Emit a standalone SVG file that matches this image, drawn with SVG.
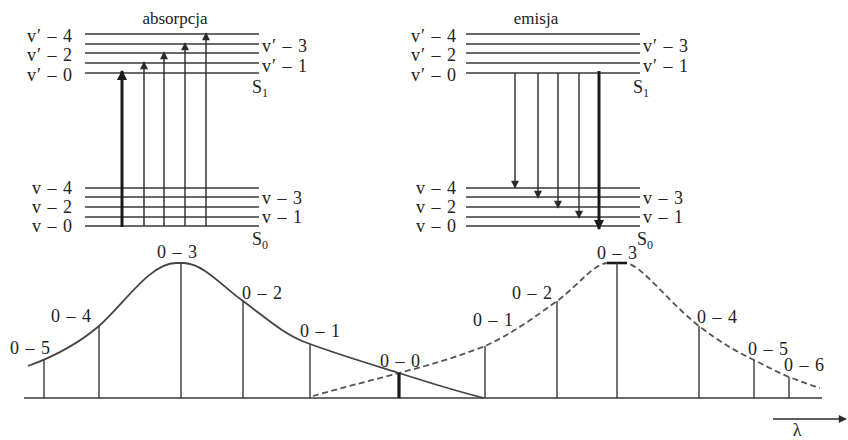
<svg xmlns="http://www.w3.org/2000/svg" width="848" height="440" viewBox="0 0 848 440" font-family="'Liberation Serif', 'Times New Roman', serif">
<defs>
<marker id="ah" viewBox="0 0 10 10" refX="9" refY="5" markerWidth="11" markerHeight="8" markerUnits="userSpaceOnUse" orient="auto"><path d="M0,0 L10,5 L0,10 z" fill="#2a2a2a"/></marker>
<marker id="ahb" viewBox="0 0 10 10" refX="9" refY="5" markerWidth="12" markerHeight="10" markerUnits="userSpaceOnUse" orient="auto"><path d="M0,0 L10,5 L0,10 z" fill="#1a1a1a"/></marker>
</defs>
<style>
text{font-family:'Liberation Serif','Times New Roman',serif;font-size:18px;fill:#222;letter-spacing:1px}
.lab{text-anchor:end}
.lvl{stroke:#3a3a3a;stroke-width:1.5;fill:none}
.stick{stroke:#3a3a3a;stroke-width:1.4;fill:none}
.arr{stroke:#2a2a2a;stroke-width:1.4;fill:none;marker-end:url(#ah)}
.arrb{stroke:#1a1a1a;stroke-width:3;fill:none;marker-end:url(#ahb)}
.thick{stroke:#1a1a1a;stroke-width:3.2;fill:none}
.curve{stroke:#444;stroke-width:1.8;fill:none}
.dash{stroke:#555;stroke-width:1.8;fill:none;stroke-dasharray:6 3.5}
.sub{font-size:12px;letter-spacing:0}
.title{font-size:17px;letter-spacing:0;text-anchor:middle}
</style>

<g id="absorption">
  <text class="title" x="175" y="24">absorpcja</text>
  <g id="abs-S1">
    <path class="lvl" d="M85,34H259M85,44H259M85,53H259M85,63H259M85,73H259"/>
    <text class="lab" x="73" y="42">v′ – 4</text>
    <text class="lab" x="73" y="61">v′ – 2</text>
    <text class="lab" x="73" y="81">v′ – 0</text>
    <text x="262" y="52">v′ – 3</text>
    <text x="262" y="72">v′ – 1</text>
    <text x="252" y="93" style="letter-spacing:0">S<tspan class="sub" dy="4">1</tspan></text>
  </g>
  <g id="abs-S0">
    <path class="lvl" d="M85,188H259M85,197H259M85,207H259M85,217H259M85,226H259"/>
    <text class="lab" x="73" y="194">v – 4</text>
    <text class="lab" x="73" y="213">v – 2</text>
    <text class="lab" x="73" y="232">v – 0</text>
    <text x="262" y="204">v – 3</text>
    <text x="262" y="223">v – 1</text>
    <text x="252" y="245" style="letter-spacing:0">S<tspan class="sub" dy="4">0</tspan></text>
  </g>
</g>

<g id="emission">
  <text class="title" x="536" y="24">emisja</text>
  <g id="em-S1">
    <path class="lvl" d="M466,34H640M466,44H640M466,53H640M466,63H640M466,73H640"/>
    <text class="lab" x="457" y="42">v′ – 4</text>
    <text class="lab" x="457" y="61">v′ – 2</text>
    <text class="lab" x="457" y="81">v′ – 0</text>
    <text x="643" y="52">v′ – 3</text>
    <text x="643" y="72">v′ – 1</text>
    <text x="633" y="93" style="letter-spacing:0">S<tspan class="sub" dy="4">1</tspan></text>
  </g>
  <g id="em-S0">
    <path class="lvl" d="M466,188H640M466,197H640M466,207H640M466,217H640M466,226H640"/>
    <text class="lab" x="457" y="194">v – 4</text>
    <text class="lab" x="457" y="213">v – 2</text>
    <text class="lab" x="457" y="232">v – 0</text>
    <text x="643" y="204">v – 3</text>
    <text x="643" y="223">v – 1</text>
    <text x="637" y="245" style="letter-spacing:0">S<tspan class="sub" dy="4">0</tspan></text>
  </g>
</g>

<g id="connectors">
  <path class="arrb" d="M122,227V71"/>
  <path class="arr" d="M144,226V62"/>
  <path class="arr" d="M164,226V52"/>
  <path class="arr" d="M185,226V43"/>
  <path class="arr" d="M206,226V33"/>
  <path class="arr" d="M515,73V188"/>
  <path class="arr" d="M538,73V198"/>
  <path class="arr" d="M558,73V208"/>
  <path class="arr" d="M579,73V218"/>
  <path class="arrb" d="M599,71V229"/>
</g>

<g id="spectrum">
  <path class="lvl" d="M24,398H822"/>
  <path class="curve" d="M28,366 C50,358 78,344 99,326 C124,304 150,263 176,263 L184,263 C204,264 222,286 243,301 C265,317 285,336 310,344 C340,355 370,364 399,373 C430,383 460,392 484,398"/>
  <path class="dash" d="M313,396 C340,388 370,381 399,373 C430,365 460,356 485,346 C510,335 535,317 557,301 C580,284 594,263 608,263 L626,263 C643,266 666,300 699,326 C720,342 735,351 754,360 C766,366 777,372 789,377 C800,381 810,385 820,388"/>
  <path class="thick" d="M607,263H627" style="stroke-width:2.6"/>
  <g id="abs-sticks">
    <path class="stick" d="M44,398V360M99,398V326M181,398V263M243,398V301M310,398V344"/>
    <path class="thick" d="M399,398V373"/>
  </g>
  <g id="em-sticks">
    <path class="stick" d="M485,398V346M557,398V301M617,398V263M699,398V326M754,398V360M789,398V377"/>
  </g>
  <g id="abs-labels">
    <text x="10" y="354">0 – 5</text>
    <text x="51" y="322">0 – 4</text>
    <text x="157" y="258">0 – 3</text>
    <text x="242" y="299">0 – 2</text>
    <text x="300" y="337">0 – 1</text>
    <text x="380" y="367">0 – 0</text>
  </g>
  <g id="em-labels">
    <text x="473" y="326">0 – 1</text>
    <text x="512" y="299">0 – 2</text>
    <text x="597" y="259">0 – 3</text>
    <text x="697" y="323">0 – 4</text>
    <text x="748" y="355">0 – 5</text>
    <text x="784" y="371">0 – 6</text>
  </g>
  <g id="lambda">
    <path class="arr" d="M773,419H846" style="stroke-width:1.5"/>
    <text x="797" y="436" style="text-anchor:middle;letter-spacing:0">λ</text>
  </g>
</g>
</svg>
